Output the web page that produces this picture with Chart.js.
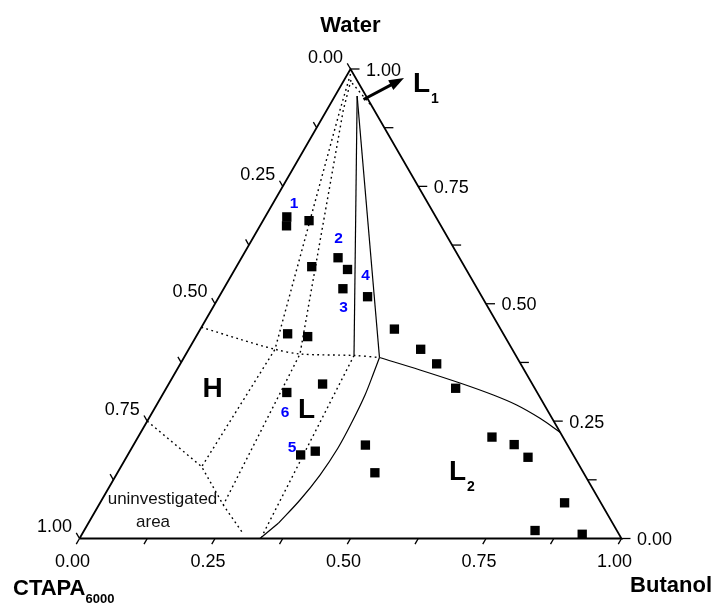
<!DOCTYPE html>
<html><head><meta charset="utf-8">
<script src="https://cdn.jsdelivr.net/npm/chart.js@4/dist/chart.umd.min.js"></script>
<style>html,body{margin:0;padding:0;background:#fff}canvas{display:block}</style>
</head><body>
<canvas id="c" width="715" height="607"></canvas>
<script>
// All compositions are mass fractions given as [water, butanol]; CTAPA6000 = 1 - water - butanol
const axisNames = ['Water', 'CTAPA', 'Butanol'];
const tickValues = [0, 0.125, 0.25, 0.375, 0.5, 0.625, 0.75, 0.875, 1];
const tickLabelValues = [0, 0.25, 0.5, 0.75, 1];
const tickLabels = ['0.00', '0.25', '0.50', '0.75', '1.00'];

// measured samples
const waterFrac   = [0.685,0.666,0.677,0.598,0.573,0.579,0.532,0.515,0.436,0.430,0.446,0.403,0.372,0.320,0.329,0.311,0.178,0.186,0.199,0.140,0.216,0.200,0.173,0.076,0.017,0.009];
const butanolFrac = [0.040,0.049,0.085,0.178,0.208,0.139,0.220,0.274,0.166,0.206,0.358,0.428,0.473,0.534,0.284,0.227,0.319,0.342,0.428,0.475,0.653,0.702,0.741,0.857,0.832,0.923];

// phase boundaries (solid)
const l1LeftBoundary  = [[0.9425,0.041],[0.391,0.311]];
const l1RightBoundary = [[0.9425,0.041],[0.3855,0.3607]];
const l2UpperBoundary = [[0.3855,0.3607],[0.359,0.4487],[0.3312,0.5364],[0.3056,0.6107],[0.2843,0.6644],[0.256,0.7216],[0.226,0.774]];
const l2LowerBoundary = [[0.3855,0.3607],[0.3546,0.3661],[0.3056,0.374],[0.2481,0.3787],[0.1928,0.3805],[0.1352,0.3761],[0.082,0.3658],[0.0324,0.3506]];
const l2LowerTail     = [[0.0324,0.3506],[0,0.333]];
// tentative boundaries (dotted)
const l1Cap       = [[0.970,0.018],[0.919,0.081]];
const hBoundary   = [[0.45,0],[0.4243,0.084],[0.403,0.1592],[0.393,0.2103],[0.3898,0.3116],[0.3855,0.3607]];
const uninvBound  = [[0.25,0],[0.1529,0.149],[0.0714,0.2296],[0.0145,0.2921]];
const fanLine1    = [[0.9894,0.0053],[0.9127,0.0243],[0.403,0.1592],[0.1529,0.149]];
const fanLine2    = [[0.9766,0.0126],[0.9127,0.0304],[0.393,0.2103],[0.0714,0.2296]];
const fanLine3    = [[0.3898,0.3116],[0.0038,0.3343]];
// arrow to L1
const arrowL1 = [[0.935,0.0565],[0.9808,0.1083]];

// text labels: [text, water, butanol] (baseline centre)
const regionLabels = [['H',0.3014,0.0947,''],['L',0.2567,0.2905,''],['L',0.951,0.1555,'1'],['L',0.1246,0.6351,'2']];
const sampleLabels = [['1',0.704,0.0438],['2',0.6294,0.1632],['3',0.4824,0.2459],['4',0.5506,0.2524],['5',0.1842,0.3],['6',0.2588,0.2498]];
const noteLabels = [['uninvestigated',0.0735,0.1164],['area',0.0245,0.1234]];

const H3 = Math.sqrt(3) / 2;
const toXY = (w, b) => ({ x: b + w / 2, y: w * H3 });
const path = arr => arr.map(p => toXY(p[0], p[1]));
const FONT = '"Liberation Sans", Arial, Helvetica, sans-serif';

function lineDs(arr, opts) {
  return Object.assign({ type: 'scatter', data: path(arr), showLine: true, pointRadius: 0, borderColor: '#000',
    borderWidth: 1.2, tension: 0, clip: false, fill: false }, opts || {});
}
const dotted = { borderDash: [1.8, 3.4], borderWidth: 1.4 };

const datasets = [
  { type: 'scatter', data: waterFrac.map((w, i) => toXY(w, butanolFrac[i])), pointStyle: 'rect', pointRadius: 6.6,
    backgroundColor: '#000', borderColor: '#000', borderWidth: 0, showLine: false, clip: false },
  lineDs([[0,0],[0,1],[1,0],[0,0]], { borderWidth: 1.8 }),
  lineDs(l1LeftBoundary), lineDs(l1RightBoundary),
  lineDs(l2UpperBoundary, { tension: 0.35 }),
  lineDs(l2LowerBoundary, { tension: 0.35 }),
  lineDs(l2LowerTail),
  lineDs(l1Cap, dotted), lineDs(hBoundary, Object.assign({ tension: 0.3 }, dotted)), lineDs(uninvBound, dotted),
  lineDs(fanLine1, dotted), lineDs(fanLine2, dotted), lineDs(fanLine3, dotted)
];

const ternaryPlugin = {
  id: 'ternary',
  afterDatasetsDraw(chart) {
    const ctx = chart.ctx, xs = chart.scales.x, ys = chart.scales.y;
    const P = (w, b) => { const q = toXY(w, b); return { x: xs.getPixelForValue(q.x), y: ys.getPixelForValue(q.y) }; };
    ctx.save();
    ctx.strokeStyle = '#000'; ctx.lineWidth = 1.3; ctx.lineCap = 'butt';
    const seg = (a, b, c, d) => { ctx.beginPath(); ctx.moveTo(a, b); ctx.lineTo(c, d); ctx.stroke(); };
    const L = 6.5;
    tickValues.forEach(t => {
      let p = P(0, t); seg(p.x, p.y, p.x - 0.5 * L, p.y + H3 * L);
      p = P(1 - t, 0); seg(p.x, p.y, p.x - 0.5 * L, p.y - H3 * L);
      p = P(t, 1 - t); seg(p.x, p.y, p.x + 9, p.y);
    });
    // tick labels
    ctx.fillStyle = '#000';
    ctx.font = '18px ' + FONT;
    ctx.textBaseline = 'alphabetic';
    tickLabelValues.forEach((t, i) => {
      let p = P(0, t); ctx.textAlign = 'center'; ctx.fillText(tickLabels[i], p.x - 7, p.y + 28.5);
      p = P(1 - t, 0); ctx.textAlign = 'right'; ctx.fillText(tickLabels[i], p.x - 7.5, p.y - 6.5);
      p = P(t, 1 - t); ctx.textAlign = 'left'; ctx.fillText(tickLabels[i], p.x + 15.5, p.y + 6.5);
    });
    // axis titles
    ctx.font = 'bold 22px ' + FONT;
    let p = P(1, 0); ctx.textAlign = 'center'; ctx.fillText(axisNames[0], p.x, p.y - 37);
    p = P(0, 0); ctx.textAlign = 'left'; ctx.fillText(axisNames[1], p.x - 66.5, p.y + 56.5);
    const wC = ctx.measureText(axisNames[1]).width;
    ctx.font = 'bold 13px ' + FONT; ctx.fillText('6000', p.x - 66.5 + wC, p.y + 64.5);
    ctx.font = 'bold 22px ' + FONT;
    p = P(0, 1); ctx.textAlign = 'right'; ctx.fillText(axisNames[2], p.x + 90.5, p.y + 53.5);
    // region labels
    regionLabels.forEach(r => {
      const q = P(r[1], r[2]);
      ctx.font = 'bold 28px ' + FONT; ctx.textAlign = 'center'; ctx.fillText(r[0], q.x, q.y);
      if (r[3]) {
        const w = ctx.measureText(r[0]).width;
        ctx.font = 'bold 14px ' + FONT; ctx.textAlign = 'left'; ctx.fillText(r[3], q.x + w / 2 + 1, q.y + 11);
      }
    });
    // sample numbers
    ctx.fillStyle = '#0000ff'; ctx.font = 'bold 15.5px ' + FONT; ctx.textAlign = 'center';
    sampleLabels.forEach(s => { const q = P(s[1], s[2]); ctx.fillText(s[0], q.x, q.y); });
    // note
    ctx.fillStyle = '#111'; ctx.font = '17px ' + FONT;
    noteLabels.forEach(s => { const q = P(s[1], s[2]); ctx.fillText(s[0], q.x, q.y); });
    // arrow
    const a = P(arrowL1[0][0], arrowL1[0][1]), b = P(arrowL1[1][0], arrowL1[1][1]);
    const ang = Math.atan2(b.y - a.y, b.x - a.x), hl = 15, hw = 5.5;
    const bx = b.x - hl * Math.cos(ang), by = b.y - hl * Math.sin(ang);
    ctx.strokeStyle = '#000'; ctx.lineWidth = 3; seg(a.x, a.y, bx + 2 * Math.cos(ang), by + 2 * Math.sin(ang));
    ctx.fillStyle = '#000'; ctx.beginPath(); ctx.moveTo(b.x, b.y);
    ctx.lineTo(bx - hw * Math.sin(ang), by + hw * Math.cos(ang));
    ctx.lineTo(bx + hw * Math.sin(ang), by - hw * Math.cos(ang));
    ctx.closePath(); ctx.fill();
    ctx.restore();
  }
};

new Chart(document.getElementById('c'), {
  type: 'scatter',
  data: { datasets },
  options: {
    responsive: false, animation: false, events: [],
    layout: { padding: { left: 79.5, right: 93.5, top: 69, bottom: 68.5 } },
    scales: {
      x: { type: 'linear', min: 0, max: 1, display: false },
      y: { type: 'linear', min: 0, max: H3, display: false }
    },
    plugins: { legend: { display: false }, tooltip: { enabled: false } }
  },
  plugins: [ternaryPlugin]
});
</script>
</body></html>
